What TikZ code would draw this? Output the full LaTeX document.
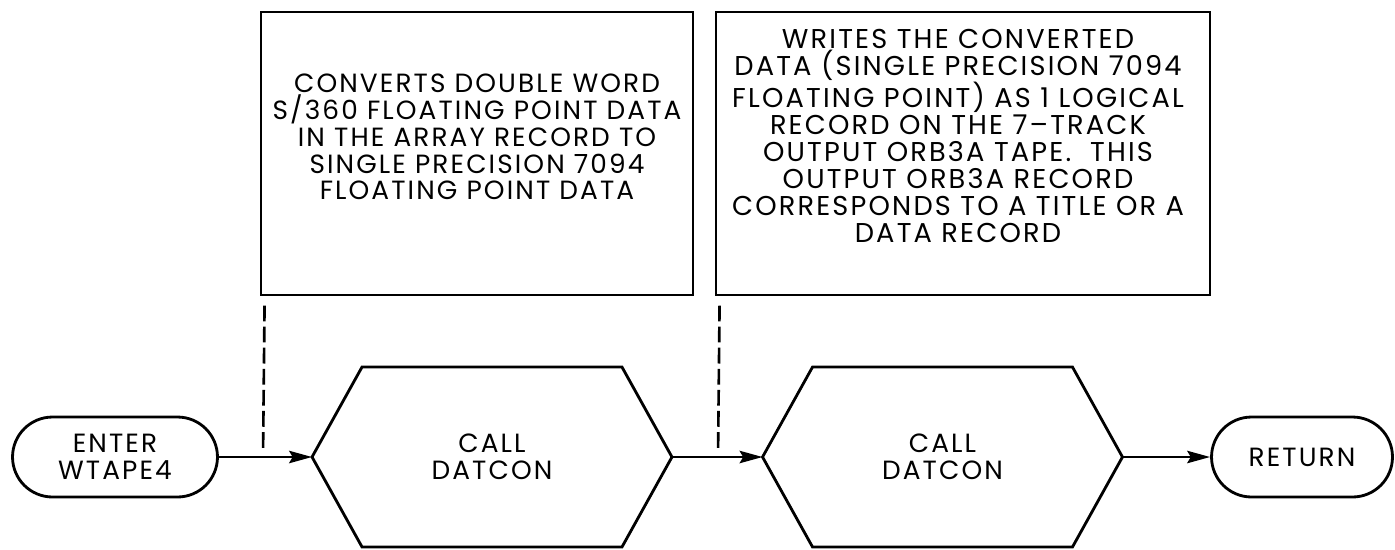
\documentclass[tikz,border=0pt]{standalone}
\usepackage{fontspec}
\setmainfont{Poppins}[LetterSpace=8]
\usetikzlibrary{calc,arrows.meta}

\begin{document}
\begin{tikzpicture}[x=0.02cm,y=-0.02cm]
    \tikzstyle{flow}  = [line width=1.6pt,-{Stealth[length=13pt,width=7pt,inset=2pt]},draw=black]
    \tikzstyle{link} = [line width=1.5pt,dash pattern=on 9pt off 3pt,draw=black]
    \tikzstyle{txt}=[align=center,inner sep=0pt,font=\fontsize{15}{15.3}\selectfont]
    \tikzstyle{term}=[
      txt,
      draw,
      line width=1.6pt,
      rounded corners=0.8cm,
      minimum height=1.6cm,
    ]
    \tikzstyle{note}=[draw,line width=1.6pt,minimum height=5.66cm,outer sep=0pt]
    \tikzstyle{call}=[txt,minimum width=7.2cm,minimum height=3.6cm,outer sep=0pt]
    \tikzstyle{hexline}=[line width=1.6pt,draw=black,line join=miter]

    \useasboundingbox (0,0) rectangle (1395,549);

    \node[term,minimum width=4.1cm] (enter) at (115,457) {ENTER\\WTAPE4};
    \node[call] (call1) at (492,457) {CALL\\DATCON};
    \node[call] (call2) at (942.5,457) {CALL\\DATCON};
    \node[term,minimum width=3.62cm] (ret) at (1302,457) {RETURN};

    \node[note,minimum width=8.64cm] (conv) at (477,153.5) {};
    \node[txt] (convtxt) at (477,137) {CONVERTS DOUBLE WORD\\S/360 FLOATING POINT DATA\\IN THE ARRAY RECORD TO\\SINGLE PRECISION 7094\\FLOATING POINT DATA};
    \node[note,minimum width=9.88cm] (wrt) at (963,153.5) {};
    \node[txt,font=\fontsize{15.5}{15.3}\selectfont] (wrttxt) at (958,136) {WRITES THE CONVERTED\\DATA (SINGLE PRECISION 7094\\FLOATING POINT) AS 1 LOGICAL\\RECORD ON THE 7--TRACK\\OUTPUT ORB3A TAPE.\ \ THIS\\OUTPUT ORB3A RECORD\\CORRESPONDS TO A TITLE OR A\\DATA RECORD};

    \draw[hexline] (call1.west) -- ([xshift=1cm]call1.north west) -- ([xshift=-1cm]call1.north east)
      -- (call1.east) -- ([xshift=-1cm]call1.south east) -- ([xshift=1cm]call1.south west) -- cycle;
    \draw[hexline] (call2.west) -- ([xshift=1cm]call2.north west) -- ([xshift=-1cm]call2.north east)
      -- (call2.east) -- ([xshift=-1cm]call2.south east) -- ([xshift=1cm]call2.south west) -- cycle;

    \coordinate (tap1) at ($(conv.south west |- enter)+(2,-4)$);
    \coordinate (tap2) at ($(wrt.south west |- enter)+(2,-4)$);

    \draw[flow] (enter) -- (call1.west);
    \draw[flow] (call1.east) -- (call2.west);
    \draw[flow] (call2.east) -- (ret);
    \draw[link] ([xshift=2,yshift=-6]conv.south west) -- (tap1);
    \draw[link] ([xshift=2,yshift=-6]wrt.south west) -- (tap2);
  \end{tikzpicture}
\end{document}
